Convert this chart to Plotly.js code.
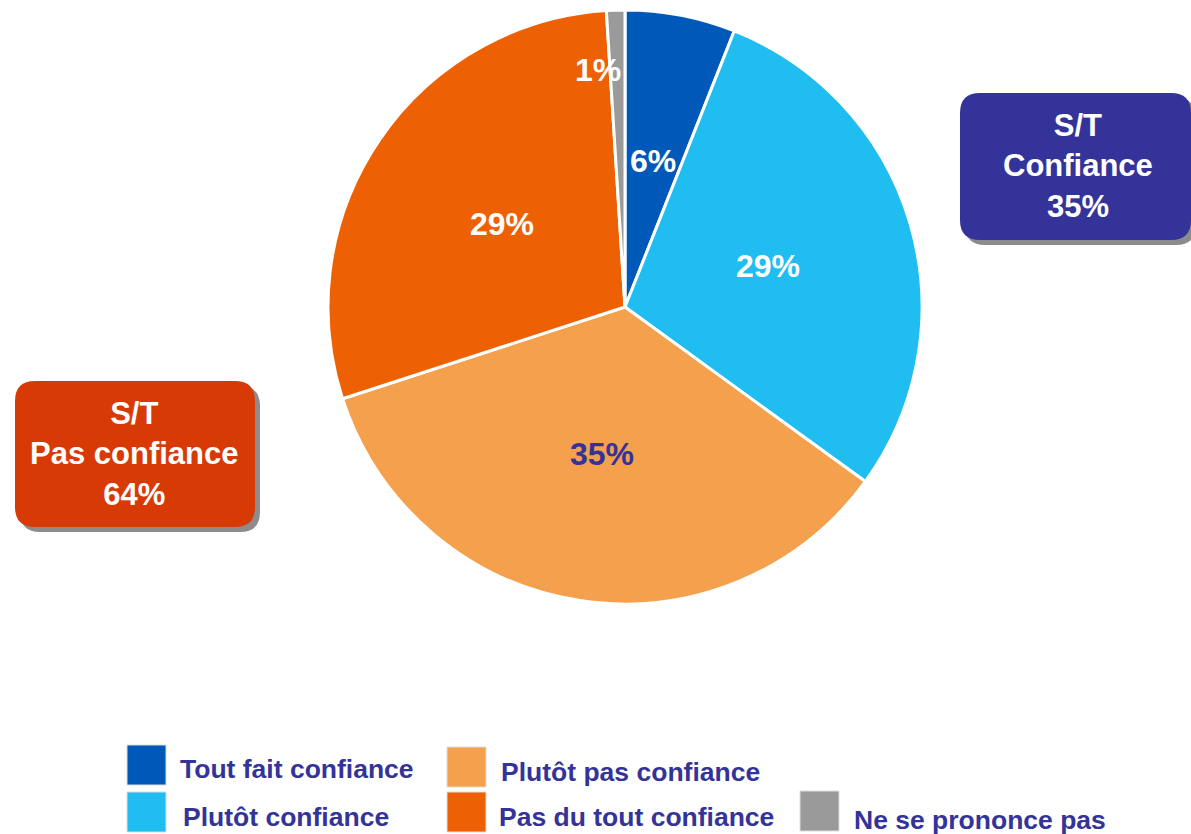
<!DOCTYPE html>
<html>
<head>
<meta charset="utf-8">
<script src="https://cdn.plot.ly/plotly-3.0.1.min.js"></script>
<style>html,body{margin:0;padding:0;background:#fff;}#chart{width:1191px;height:834px;}</style>
</head>
<body>
<div id="chart"></div>
<script>
const categories = ["Tout fait confiance", "Plutôt confiance", "Plutôt pas confiance", "Pas du tout confiance", "Ne se prononce pas"];
const values = [6, 29, 35, 29, 1];
const sliceColors = ["#0058b8", "#20bdf0", "#f4a04c", "#ee6004", "#9a9a9a"];
const labelColors = ["#ffffff", "#ffffff", "#333399", "#ffffff", "#ffffff"];
const groupTitles = ["S/T<br>Confiance", "S/T<br>Pas confiance"];

const W = 1191, H = 834;
const FONT = "'Liberation Sans', Arial, sans-serif";
const px = x => x / W;
const py = y => 1 - y / H;

function roundRect(x0, y0, x1, y1, r) {
  const p = (x, y) => px(x) + ',' + py(y);
  return 'M' + p(x0 + r, y0) + ' L' + p(x1 - r, y0) + ' Q' + p(x1, y0) + ' ' + p(x1, y0 + r) +
    ' L' + p(x1, y1 - r) + ' Q' + p(x1, y1) + ' ' + p(x1 - r, y1) +
    ' L' + p(x0 + r, y1) + ' Q' + p(x0, y1) + ' ' + p(x0, y1 - r) +
    ' L' + p(x0, y0 + r) + ' Q' + p(x0, y0) + ' ' + p(x0 + r, y0) + ' Z';
}

// pie geometry (pixels)
const CX = 625, CY = 307, R = 297;

const trace = {
  type: 'pie',
  values: values,
  labels: categories,
  sort: false,
  direction: 'clockwise',
  rotation: 0,
  marker: { colors: sliceColors, line: { color: '#ffffff', width: 3 } },
  textinfo: 'none',
  hoverinfo: 'label+percent',
  showlegend: false,
  domain: { x: [px(CX - R), px(CX + R)], y: [py(CY + R), py(CY - R)] }
};

const shapes = [];
const annotations = [];

// slice labels at half radius, mid-angle of each slice
const total = values.reduce((a, b) => a + b, 0);
let cum = 0;
values.forEach((v, i) => {
  const mid = (cum + v / 2) / total * 2 * Math.PI;
  cum += v;
  let x = CX + 0.5 * R * Math.sin(mid);
  let y = CY - 0.5 * R * Math.cos(mid);
  if (v / total < 0.03) { x = 598; y = 70; } // tiny slice label sits beside it
  annotations.push({ xref: 'paper', yref: 'paper', x: px(x), y: py(y), text: v + '%', showarrow: false, xanchor: 'center', yanchor: 'middle', font: { family: FONT, size: 32, color: labelColors[i], weight: 'bold' } });
});

// summary boxes
const boxes = [
  { x0: 960, y0: 93, x1: 1191, y1: 240, color: '#333399', text: groupTitles[0] + '<br>' + (values[0] + values[1]) + '%', cx: 1078, cy: 166 },
  { x0: 15, y0: 381, x1: 255, y1: 527, color: '#d83a06', text: groupTitles[1] + '<br>' + (values[2] + values[3]) + '%', cx: 134, cy: 454 }
];
boxes.forEach(b => {
  shapes.push({ type: 'path', xref: 'paper', yref: 'paper', path: roundRect(b.x0 + 5, b.y0 + 5, b.x1 + 5, b.y1 + 5, 20), fillcolor: '#8c8c8c', line: { width: 0 }, layer: 'above' });
  shapes.push({ type: 'path', xref: 'paper', yref: 'paper', path: roundRect(b.x0, b.y0, b.x1, b.y1, 20), fillcolor: b.color, line: { width: 0 }, layer: 'above' });
  annotations.push({ xref: 'paper', yref: 'paper', x: px(b.cx), y: py(b.cy), text: b.text, showarrow: false, xanchor: 'center', yanchor: 'middle', align: 'center', font: { family: FONT, size: 31, color: '#ffffff', weight: 'bold' } });
});

// custom legend
const legendPos = [
  { sx: 127, sy: 745, tx: 178, ty: 769 },
  { sx: 127, sy: 792, tx: 181, ty: 817 },
  { sx: 447, sy: 747, tx: 499, ty: 772 },
  { sx: 447, sy: 792, tx: 497, ty: 817 },
  { sx: 800, sy: 791, tx: 852, ty: 820 }
];
categories.forEach((c, i) => {
  const p = legendPos[i];
  shapes.push({ type: 'rect', xref: 'paper', yref: 'paper', x0: px(p.sx), x1: px(p.sx + 39), y0: py(p.sy + 40), y1: py(p.sy), fillcolor: sliceColors[i], line: { color: '#dddddd', width: 1 } });
  annotations.push({ xref: 'paper', yref: 'paper', x: px(p.tx), y: py(p.ty), text: c, showarrow: false, xanchor: 'left', yanchor: 'middle', font: { family: FONT, size: 26.5, color: '#333399', weight: 'bold' } });
});

const layout = {
  width: W, height: H,
  margin: { l: 0, r: 0, t: 0, b: 0 },
  paper_bgcolor: '#ffffff',
  showlegend: false,
  shapes: shapes,
  annotations: annotations
};

Plotly.newPlot('chart', [trace], layout, { displayModeBar: false, staticPlot: true });
</script>
</body>
</html>
